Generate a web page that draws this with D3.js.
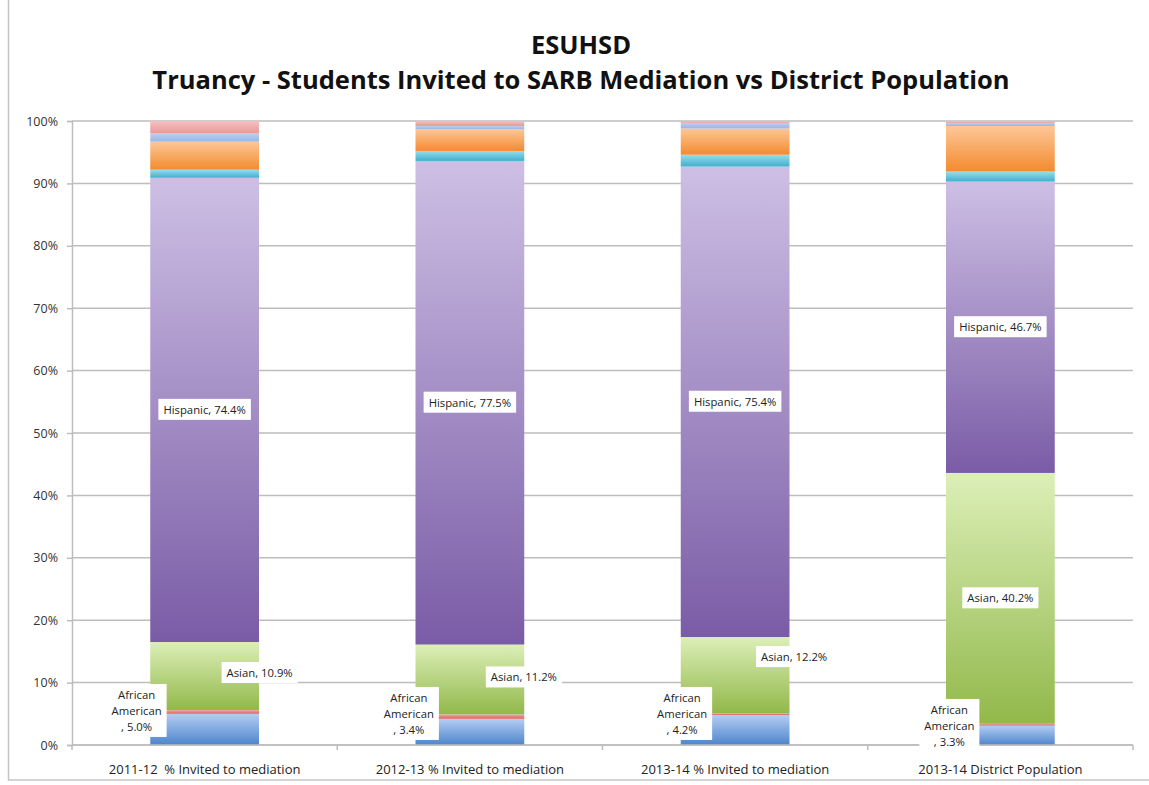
<!DOCTYPE html>
<html>
<head>
<meta charset="utf-8">
<script src="https://cdn.jsdelivr.net/npm/d3@7/dist/d3.min.js"></script>
<style>
  body { margin: 0; background: #fff; }
  svg { display: block; font-family: "Open Sans", "Liberation Sans", sans-serif; }
  text { white-space: pre; }
</style>
</head>
<body>
<svg id="chart"></svg>
<script>
var categories = ["2011-12  % Invited to mediation", "2012-13 % Invited to mediation",
                  "2013-14 % Invited to mediation", "2013-14 District Population"];
var groups = ["African American", "American Indian", "Asian", "Hispanic",
              "Pacific Islander", "White", "Multiple", "Not Reported"];
// one array per group, values in % for each category
var africanAmerican = [5.0, 4.2, 4.8, 3.1];
var americanIndian  = [0.6, 0.7, 0.3, 0.3];
var asian           = [10.9, 11.2, 12.2, 40.2];
var hispanic        = [74.4, 77.5, 75.4, 46.7];
var pacificIslander = [1.3, 1.6, 1.9, 1.6];
var white           = [4.5, 3.5, 4.2, 7.3];
var multiple        = [1.3, 0.5, 0.9, 0.5];
var notReported     = [2.0, 0.8, 0.3, 0.3];
var yTicks = [0, 10, 20, 30, 40, 50, 60, 70, 80, 90, 100];
// data label texts as printed on the chart
var aaLabels = ["5.0%", "3.4%", "4.2%", "3.3%"];
var asianLabels = ["10.9%", "11.2%", "12.2%", "40.2%"];
var hispLabels = ["74.4%", "77.5%", "75.4%", "46.7%"];

var seriesVals = [africanAmerican, americanIndian, asian, hispanic,
                  pacificIslander, white, multiple, notReported];
var colors = [
  ["#b3cdf2", "#4d85cc"],
  ["#f2a7a7", "#d9625e"],
  ["#dcefb8", "#92b84a"],
  ["#cdbfe4", "#7a5ca6"],
  ["#98dcee", "#3fb0cd"],
  ["#fdc797", "#f38b2f"],
  ["#bcd0f0", "#97b5e6"],
  ["#f6c0c0", "#ea9898"]
];

var width = 1149, height = 785;
var margin = {left: 72, right: 16, top: 121, bottom: 40};

var svg = d3.select("#chart").attr("width", width).attr("height", height);

var rows = categories.map(function(c, i) {
  var r = {cat: c};
  groups.forEach(function(g, j) { r[g] = seriesVals[j][i]; });
  return r;
});
var stacked = d3.stack().keys(groups)(rows);

var x = d3.scaleBand().domain(categories)
  .range([margin.left, width - margin.right]).paddingInner(0.59).paddingOuter(0.295);
var y = d3.scaleLinear().domain([0, 100]).range([height - margin.bottom, margin.top]);

var defs = svg.append("defs");
groups.forEach(function(g, j) {
  var lg = defs.append("linearGradient").attr("id", "grad" + j)
    .attr("x1", 0).attr("y1", 0).attr("x2", 0).attr("y2", 1);
  lg.append("stop").attr("offset", "0%").attr("stop-color", colors[j][0]);
  lg.append("stop").attr("offset", "100%").attr("stop-color", colors[j][1]);
});

// frame
svg.append("rect").attr("x", 8.5).attr("y", -2).attr("width", width).attr("height", 782)
  .attr("fill", "none").attr("stroke", "#c4c4c4").attr("stroke-width", 1.5);

// title
var title = svg.append("text").attr("text-anchor", "middle").attr("font-weight", "bold")
  .attr("fill", "#111").attr("font-size", 21);
title.append("tspan").attr("x", 581).attr("y", 54).text("ESUHSD");
var t2 = title.append("tspan").attr("x", 581).attr("y", 89)
  .text("Truancy - Students Invited to SARB Mediation vs District Population");
var tw = t2.node().getComputedTextLength();
title.attr("font-size", 21 * 858 / tw);

// gridlines
svg.append("g").selectAll("line").data(yTicks).join("line")
  .attr("x1", margin.left).attr("x2", width - margin.right)
  .attr("y1", function(d) { return y(d); }).attr("y2", function(d) { return y(d); })
  .attr("stroke", "#bdbdbd").attr("stroke-width", 1.5);

// y axis
var yAxis = svg.append("g").attr("transform", "translate(" + margin.left + ",0)")
  .call(d3.axisLeft(y).tickValues(yTicks).tickFormat(function(d) { return d + "%"; })
    .tickSize(5).tickPadding(9));
yAxis.select(".domain").attr("stroke", "#bdbdbd").attr("stroke-width", 1.5);
yAxis.selectAll(".tick line").attr("stroke", "#bdbdbd").attr("stroke-width", 1.5);
yAxis.selectAll("text").attr("font-size", 12.5).attr("fill", "#333")
  .attr("font-family", "Open Sans, sans-serif");

// bars
svg.append("g").selectAll("g").data(stacked).join("g")
  .attr("fill", function(d, j) { return "url(#grad" + j + ")"; })
  .selectAll("rect").data(function(d) { return d; }).join("rect")
  .attr("x", function(d) { return x(d.data.cat); })
  .attr("width", x.bandwidth())
  .attr("y", function(d) { return y(d[1]); })
  .attr("height", function(d) { return y(d[0]) - y(d[1]); });

// x axis
var xAxis = svg.append("g").attr("transform", "translate(0," + y(0) + ")");
xAxis.append("line").attr("x1", margin.left).attr("x2", width - margin.right)
  .attr("stroke", "#bdbdbd").attr("stroke-width", 1.5);
var step = x.step();
xAxis.selectAll(".tk").data(d3.range(categories.length + 1)).join("line")
  .attr("class", "tk")
  .attr("x1", function(i) { return margin.left + i * step; })
  .attr("x2", function(i) { return margin.left + i * step; })
  .attr("y1", 0).attr("y2", 5).attr("stroke", "#bdbdbd").attr("stroke-width", 1.5);
xAxis.selectAll("text").data(categories).join("text")
  .attr("x", function(d) { return x(d) + x.bandwidth() / 2; })
  .attr("y", 29).attr("text-anchor", "middle")
  .attr("font-size", 13).attr("fill", "#222").text(function(d) { return d; });

// data labels
function boxLabel(cx, cy, lines, fs) {
  var g = svg.append("g");
  var t = g.append("text").attr("text-anchor", "middle").attr("font-size", fs).attr("fill", "#222");
  lines.forEach(function(l, i) {
    t.append("tspan").attr("x", cx).attr("y", cy + (i - (lines.length - 1) / 2) * 16 + fs * 0.35).text(l);
  });
  var bb = t.node().getBBox();
  g.insert("rect", "text").attr("x", bb.x - 5).attr("y", bb.y - 3)
    .attr("width", bb.width + 10).attr("height", bb.height + 6).attr("fill", "#fff");
}

var hispIdx = groups.indexOf("Hispanic"), asianIdx = groups.indexOf("Asian");
var asianOffset = [[55, -3], [54, -2], [59, -18], [0, 0]];
var aaOffset = [[-68, 0], [-61, 0], [-53, 0], [-51, 0]];
var aaY = [711, 714, 714, 726];

categories.forEach(function(c, i) {
  var h = stacked[hispIdx][i];
  boxLabel(x(c) + x.bandwidth() / 2, y((h[0] + h[1]) / 2), ["Hispanic, " + hispLabels[i]], 11.3);
  var a = stacked[asianIdx][i];
  boxLabel(x(c) + x.bandwidth() / 2 + asianOffset[i][0], y((a[0] + a[1]) / 2) + asianOffset[i][1],
    ["Asian, " + asianLabels[i]], 11.3);
  boxLabel(x(c) + x.bandwidth() / 2 + aaOffset[i][0], aaY[i],
    ["African", "American", ", " + aaLabels[i]], 11.3);
});
</script>
</body>
</html>
